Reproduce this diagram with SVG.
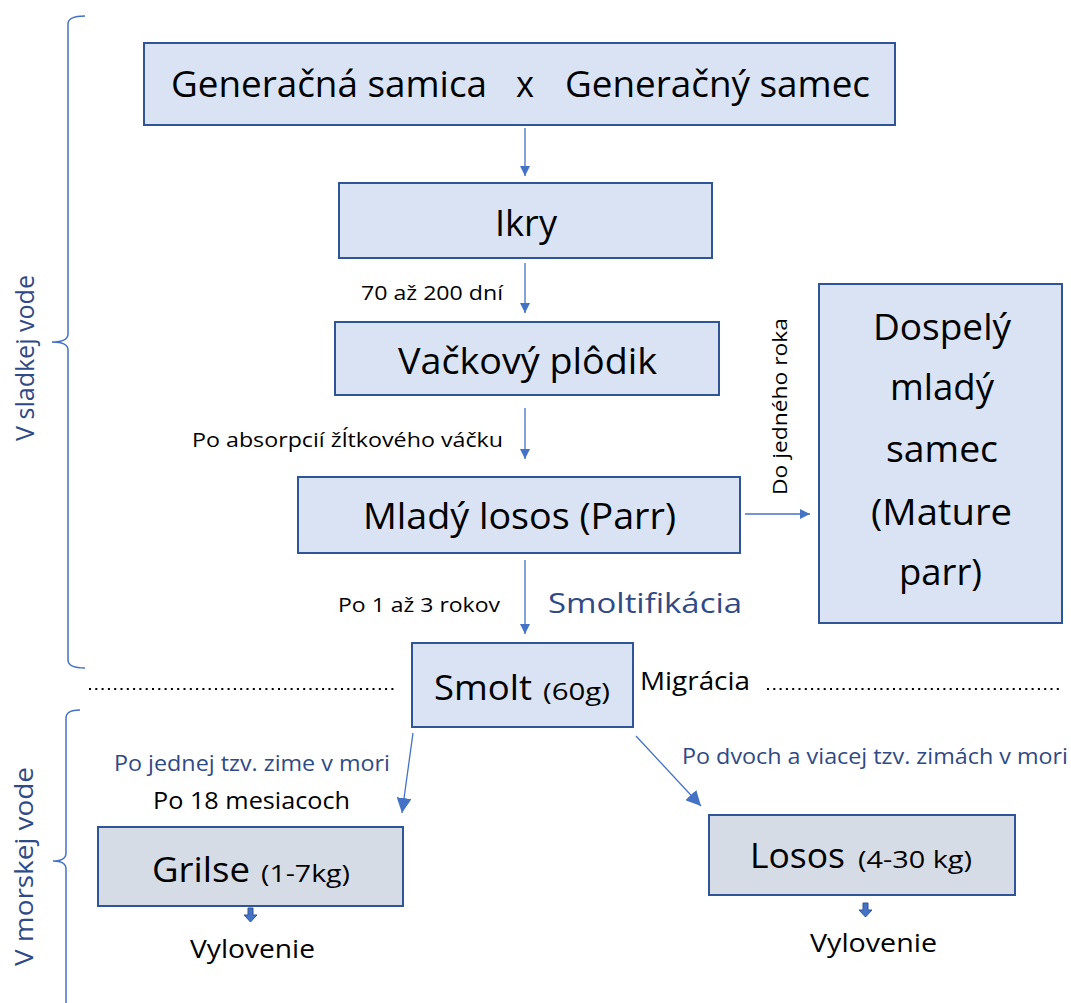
<svg xmlns="http://www.w3.org/2000/svg" width="1071" height="1003" viewBox="0 0 1071 1003">
<style>
.box{fill:#dae3f3;stroke:#2f5597;stroke-width:2}
.boxg{fill:#d6dce5;stroke:#2f5597;stroke-width:2}
.t{font-family:"Open Sans","Liberation Sans",sans-serif;fill:#000}
.big{font-size:36px}
.mid{font-size:25px}
.sm{font-size:20.5px}
.blue{fill:#2f4a85}
.conn{stroke:#4472c4;stroke-width:1.3;fill:none}
.brace{stroke:#4472c4;stroke-width:1.5;fill:none}
.dots{stroke:#000;stroke-width:2;stroke-dasharray:2 4.3}
.blk{fill:#4472c4;stroke:#2f5597;stroke-width:1}
</style>
<defs>
<marker id="ah" viewBox="0 0 10 10" refX="10" refY="5" markerWidth="10" markerHeight="10" markerUnits="userSpaceOnUse" orient="auto"><path d="M0,0 L10,5 L0,10 z" fill="#4472c4"/></marker>
<marker id="ahL" viewBox="0 0 10 10" refX="10" refY="5" markerWidth="15" markerHeight="15" markerUnits="userSpaceOnUse" orient="auto"><path d="M0,0 L10,5 L0,10 z" fill="#4472c4"/></marker>
</defs>

<g id="brace-fresh">
<path class="brace" d="M85,16 Q68,16 68,24 L68,334 Q68,342 52,342 Q68,342 68,350 L68,660 Q68,668 85,668"/>
<text class="t blue" font-size="25" transform="translate(34,441) rotate(-90)" textLength="166" lengthAdjust="spacingAndGlyphs">V sladkej vode</text>
</g>
<g id="brace-sea">
<path class="brace" d="M80,710 Q66,710 66,718 L66,853 Q66,861 53,861 Q66,861 66,869 L66,1003"/>
<text class="t blue" font-size="25" transform="translate(33,966) rotate(-90)" textLength="199" lengthAdjust="spacingAndGlyphs">V morskej vode</text>
</g>

<g id="divider">
<line class="dots" x1="89" y1="689" x2="397" y2="689"/>
<line class="dots" x1="767" y1="689" x2="1063" y2="689"/>
</g>

<g id="connectors">
<line class="conn" x1="525" y1="128" x2="525" y2="176" marker-end="url(#ah)"/>
<line class="conn" x1="525" y1="263" x2="525" y2="313" marker-end="url(#ah)"/>
<line class="conn" x1="525" y1="408" x2="525" y2="459" marker-end="url(#ah)"/>
<line class="conn" x1="525" y1="560" x2="525" y2="634" marker-end="url(#ah)"/>
<line class="conn" x1="745" y1="514" x2="810" y2="514" marker-end="url(#ah)"/>
<line class="conn" x1="413" y1="733" x2="402" y2="813" marker-end="url(#ahL)"/>
<line class="conn" x1="636" y1="736" x2="701" y2="806" marker-end="url(#ahL)"/>
<path class="blk" d="M248,908 h5 v7 h4 l-6.5,7 l-6.5,-7 h4 z"/>
<path class="blk" d="M863,903 h5 v7 h4 l-6.5,7 l-6.5,-7 h4 z"/>
</g>

<g id="n-generacna">
<rect class="box" x="144" y="43" width="751" height="82"/>
<text class="t big" x="171" y="97" textLength="316" lengthAdjust="spacingAndGlyphs">Generačná samica</text>
<text class="t big" x="516" y="97" textLength="18" lengthAdjust="spacingAndGlyphs">x</text>
<text class="t big" x="565" y="97" textLength="305" lengthAdjust="spacingAndGlyphs">Generačný samec</text>
</g>

<g id="n-ikry">
<rect class="box" x="339" y="183" width="373" height="75"/>
<text class="t big" x="495" y="236" textLength="62" lengthAdjust="spacingAndGlyphs">Ikry</text>
</g>
<text class="t sm" x="361" y="300" textLength="142" lengthAdjust="spacingAndGlyphs">70 až 200 dní</text>

<g id="n-vackovy">
<rect class="box" x="335" y="322" width="384" height="73"/>
<text class="t big" x="398" y="374" textLength="259" lengthAdjust="spacingAndGlyphs">Vačkový plôdik</text>
</g>
<text class="t sm" x="192" y="447" textLength="311" lengthAdjust="spacingAndGlyphs">Po absorpcií žĺtkového váčku</text>

<g id="n-parr">
<rect class="box" x="298" y="477" width="442" height="76"/>
<text class="t big" x="363" y="529" textLength="313" lengthAdjust="spacingAndGlyphs">Mladý losos (Parr)</text>
</g>
<text class="t sm" transform="translate(787,495) rotate(-90)" textLength="177" lengthAdjust="spacingAndGlyphs">Do jedného roka</text>

<g id="n-mature">
<rect class="box" x="819" y="284" width="243" height="339"/>
<text class="t big" x="873" y="340" textLength="138" lengthAdjust="spacingAndGlyphs">Dospelý</text>
<text class="t big" x="890" y="400" textLength="104" lengthAdjust="spacingAndGlyphs">mladý</text>
<text class="t big" x="886" y="462" textLength="112" lengthAdjust="spacingAndGlyphs">samec</text>
<text class="t big" x="871" y="525" textLength="141" lengthAdjust="spacingAndGlyphs">(Mature</text>
<text class="t big" x="899" y="585" textLength="83" lengthAdjust="spacingAndGlyphs">parr)</text>
</g>

<text class="t sm" x="338" y="612" textLength="162" lengthAdjust="spacingAndGlyphs">Po 1 až 3 rokov</text>
<text class="t blue" font-size="27" x="548" y="613" textLength="194" lengthAdjust="spacingAndGlyphs">Smoltifikácia</text>

<g id="n-smolt">
<rect class="box" x="412" y="643" width="221" height="84"/>
<text class="t" font-size="35" x="434" y="700" textLength="98" lengthAdjust="spacingAndGlyphs">Smolt</text>
<text class="t" font-size="24" x="543" y="700" textLength="67" lengthAdjust="spacingAndGlyphs">(60g)</text>
</g>
<text class="t mid" x="640" y="690" textLength="110" lengthAdjust="spacingAndGlyphs">Migrácia</text>

<text class="t blue" font-size="21.5" x="114" y="771" textLength="276" lengthAdjust="spacingAndGlyphs">Po jednej tzv. zime v mori</text>
<text class="t" font-size="23.5" x="153" y="809" textLength="197" lengthAdjust="spacingAndGlyphs">Po 18 mesiacoch</text>
<text class="t blue" font-size="21.5" x="682" y="764" textLength="386" lengthAdjust="spacingAndGlyphs">Po dvoch a viacej tzv. zimách v mori</text>

<g id="n-grilse">
<rect class="boxg" x="98" y="827" width="305" height="79"/>
<text class="t" font-size="35" x="152" y="882" textLength="98" lengthAdjust="spacingAndGlyphs">Grilse</text>
<text class="t" font-size="24" x="261" y="882" textLength="89" lengthAdjust="spacingAndGlyphs">(1-7kg)</text>
</g>
<text class="t mid" x="190" y="958" textLength="125" lengthAdjust="spacingAndGlyphs">Vylovenie</text>

<g id="n-losos">
<rect class="boxg" x="709" y="815" width="306" height="80"/>
<text class="t" font-size="35" x="750" y="868" textLength="95" lengthAdjust="spacingAndGlyphs">Losos</text>
<text class="t" font-size="24" x="858" y="868" textLength="114" lengthAdjust="spacingAndGlyphs">(4-30 kg)</text>
</g>
<text class="t mid" x="810" y="952" textLength="127" lengthAdjust="spacingAndGlyphs">Vylovenie</text>
</svg>
